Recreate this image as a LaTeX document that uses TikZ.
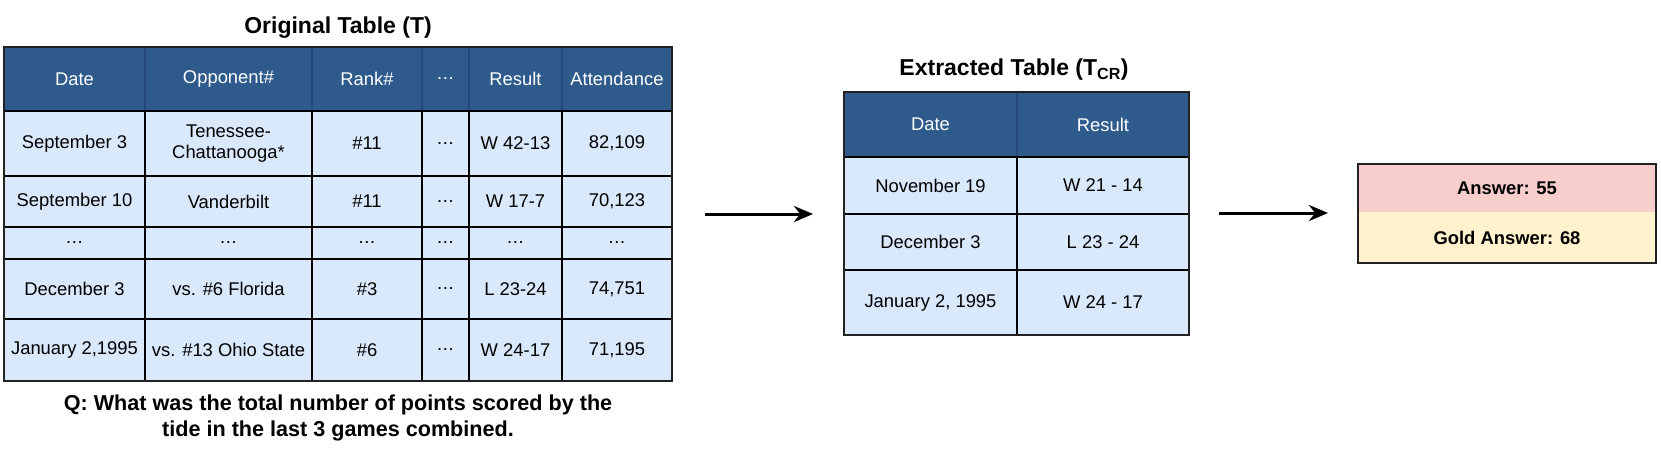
\documentclass[tikz,border=0pt]{standalone}
\usepackage{fontspec}
\setmainfont{Liberation Sans}
\usetikzlibrary{arrows.meta}
\definecolor{hdr}{HTML}{2F5B8C}
\definecolor{hdrline}{HTML}{24497A}
\definecolor{bodyc}{HTML}{DAE8FC}
\definecolor{pinkc}{HTML}{F8CECC}
\definecolor{yelc}{HTML}{FFF2CC}
\definecolor{pinkline}{HTML}{E3B4B2}
\definecolor{frame}{HTML}{222222}
\newcommand\mycell[7]{\node[#1, minimum width=#5pt, minimum height=#6pt] (#2) at (#3,#4) {#7};}
\newcommand\dts{.\kern0.6pt.\kern0.6pt.}
\tikzset{
  base/.style={rectangle, inner sep=0pt, outer sep=0pt, align=center,
    font=\fontsize{18.4}{21}\selectfont},
  hcell/.style={base, fill=hdr, draw=hdrline, line width=1.5pt, text=white},
  bcell/.style={base, fill=bodyc, draw=black, line width=2.5pt},
  tableframe/.style={draw=frame, line width=2pt},
  titletext/.style={inner sep=0pt, font=\bfseries\fontsize{23}{27}\selectfont},
  qtext/.style={inner sep=0pt, align=center, font=\bfseries\fontsize{21.6}{26}\selectfont},
  anscell/.style={base, font=\bfseries\fontsize{18.4}{21}\selectfont},
  flow/.style={line width=3pt, -{Stealth[length=19pt, width=16pt, inset=6pt]}},
}
\begin{document}
\begin{tikzpicture}[x=1pt, y=-1pt]
\useasboundingbox (0,0) rectangle (1661,449);

% ---------- Original table ----------
\node[titletext] (t1) at (338,28) {Original Table (T)};
% header
\mycell{hcell}{h1}{74.5}{79}{141}{64}{Date}
\mycell{hcell}{h2}{228.5}{79}{167}{64}{Opponent\#}
\mycell{hcell}{h3}{367}{79}{110}{64}{Rank\#}
\mycell{hcell}{h4}{445.5}{79}{47}{64}{\dts}
\mycell{hcell}{h5}{515.5}{79}{93}{64}{Result}
\mycell{hcell}{h6}{617}{79}{110}{64}{Attendance}
% row 1
\mycell{bcell}{a1}{74.5}{143.5}{141}{65}{September 3}
\mycell{bcell}{a2}{228.5}{143.5}{167}{65}{Tenessee-\\Chattanooga*}
\mycell{bcell}{a3}{367}{143.5}{110}{65}{\#11}
\mycell{bcell}{a4}{445.5}{143.5}{47}{65}{\dts}
\mycell{bcell}{a5}{515.5}{143.5}{93}{65}{W 42-13}
\mycell{bcell}{a6}{617}{143.5}{110}{65}{82,109}
% row 2
\mycell{bcell}{b1}{74.5}{201.5}{141}{51}{September 10}
\mycell{bcell}{b2}{228.5}{201.5}{167}{51}{Vanderbilt}
\mycell{bcell}{b3}{367}{201.5}{110}{51}{\#11}
\mycell{bcell}{b4}{445.5}{201.5}{47}{51}{\dts}
\mycell{bcell}{b5}{515.5}{201.5}{93}{51}{W 17-7}
\mycell{bcell}{b6}{617}{201.5}{110}{51}{70,123}
% row 3
\mycell{bcell}{c1}{74.5}{243}{141}{32}{\dts}
\mycell{bcell}{c2}{228.5}{243}{167}{32}{\dts}
\mycell{bcell}{c3}{367}{243}{110}{32}{\dts}
\mycell{bcell}{c4}{445.5}{243}{47}{32}{\dts}
\mycell{bcell}{c5}{515.5}{243}{93}{32}{\dts}
\mycell{bcell}{c6}{617}{243}{110}{32}{\dts}
% row 4
\mycell{bcell}{d1}{74.5}{289}{141}{60}{December 3}
\mycell{bcell}{d2}{228.5}{289}{167}{60}{vs. \#6 Florida}
\mycell{bcell}{d3}{367}{289}{110}{60}{\#3}
\mycell{bcell}{d4}{445.5}{289}{47}{60}{\dts}
\mycell{bcell}{d5}{515.5}{289}{93}{60}{L 23-24}
\mycell{bcell}{d6}{617}{289}{110}{60}{74,751}
% row 5
\mycell{bcell}{e1}{74.5}{350}{141}{62}{January 2,1995}
\mycell{bcell}{e2}{228.5}{350}{167}{62}{vs. \#13 Ohio State}
\mycell{bcell}{e3}{367}{350}{110}{62}{\#6}
\mycell{bcell}{e4}{445.5}{350}{47}{62}{\dts}
\mycell{bcell}{e5}{515.5}{350}{93}{62}{W 24-17}
\mycell{bcell}{e6}{617}{350}{110}{62}{71,195}
\draw[tableframe] (h1.north west) rectangle (e6.south east);

\node[qtext] (q) at (338,418) {Q: What was the total number of points scored by the\\tide in the last 3 games combined.};

% ---------- Extracted table ----------
\node[titletext] (t2) at (1014,70) {Extracted Table (T\textsubscript{CR})};
\mycell{hcell}{xh1}{930.5}{124.5}{173}{65}{Date}
\mycell{hcell}{xh2}{1103}{124.5}{172}{65}{Result}
\mycell{bcell}{x11}{930.5}{185.5}{173}{57}{November 19}
\mycell{bcell}{x12}{1103}{185.5}{172}{57}{W 21 - 14}
\mycell{bcell}{x21}{930.5}{242}{173}{56}{December 3}
\mycell{bcell}{x22}{1103}{242}{172}{56}{L 23 - 24}
\mycell{bcell}{x31}{930.5}{302.5}{173}{65}{January 2, 1995}
\mycell{bcell}{x32}{1103}{302.5}{172}{65}{W 24 - 17}
\draw[tableframe] (xh1.north west) rectangle (x32.south east);

% ---------- Answer box ----------
\node[anscell, fill=pinkc, draw=pinkline, line width=1pt, minimum width=298pt, minimum height=48pt] (ans) at (1507,188) {Answer: 55};
\node[anscell, fill=yelc, minimum width=298pt, minimum height=51pt] (gold) at (1507,237.5) {Gold Answer: 68};
\draw[tableframe] (ans.north west) rectangle (gold.south east);

% ---------- Arrows ----------
\coordinate (a1s) at (705,214);
\coordinate (a1e) at (813,214);
\coordinate (a2s) at (1219,213);
\coordinate (a2e) at (1328,213);
\draw[flow] (a1s) -- (a1e);
\draw[flow] (a2s) -- (a2e);
\end{tikzpicture}
\end{document}
